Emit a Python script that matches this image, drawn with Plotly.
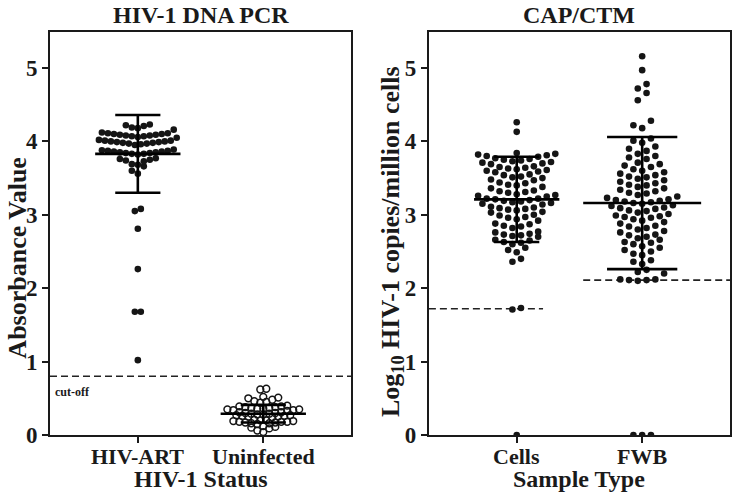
import math
import plotly.graph_objects as go

# ---------------- data ----------------
left_categories = ["HIV-ART", "Uninfected"]
right_categories = ["Cells", "FWB"]
category_positions = [1, 2]
y_ticks = [0, 1, 2, 3, 4, 5]

hiv_art = [1.02, 1.68, 1.68, 2.26, 2.81, 3.05, 3.08,
           3.56, 3.60, 3.66, 3.68, 3.69, 3.73, 3.74, 3.75, 3.76, 3.77,
           3.82, 3.83, 3.83, 3.84, 3.84, 3.85, 3.85, 3.86, 3.86, 3.87, 3.87, 3.88, 3.89,
           3.95, 3.96, 3.97, 3.97, 3.98, 3.98, 3.99, 3.99, 4.00, 4.00, 4.01, 4.01, 4.02,
           4.05, 4.06, 4.07, 4.07, 4.08, 4.08, 4.09, 4.09, 4.10, 4.10, 4.11, 4.11, 4.12,
           4.16, 4.18, 4.19, 4.21, 4.22, 4.23]

uninfected = [0.04, 0.06,
              0.09, 0.10, 0.11, 0.12,
              0.15, 0.16, 0.16, 0.17, 0.17, 0.18, 0.18, 0.18, 0.19, 0.19, 0.20, 0.20, 0.21,
              0.24, 0.25, 0.25, 0.26, 0.26, 0.27, 0.27, 0.28, 0.28, 0.29, 0.29, 0.30, 0.30,
              0.31, 0.31,
              0.33, 0.34, 0.34, 0.35, 0.35, 0.36, 0.36, 0.37, 0.37, 0.38, 0.38, 0.39, 0.39,
              0.40,
              0.44, 0.45, 0.46, 0.48, 0.50, 0.51, 0.52,
              0.62, 0.63]

cells = [0.0, 1.71, 1.73,
         2.36, 2.40,
         2.49, 2.52, 2.55,
         2.60, 2.62, 2.63, 2.65, 2.66,
         2.70, 2.71, 2.72, 2.73, 2.74, 2.76, 2.77,
         2.82, 2.84, 2.85, 2.87, 2.88,
         2.92, 2.94, 2.96, 2.97, 2.99, 3.00,
         3.03, 3.04, 3.06, 3.07, 3.08, 3.09, 3.10, 3.11,
         3.14, 3.15, 3.16, 3.17, 3.18, 3.19, 3.20, 3.21, 3.22, 3.22,
         3.25, 3.26, 3.27, 3.28, 3.30, 3.31, 3.32, 3.33,
         3.36, 3.38, 3.40, 3.41, 3.43, 3.44,
         3.47, 3.48, 3.50, 3.51, 3.52, 3.54, 3.55,
         3.58, 3.59, 3.60, 3.61, 3.62, 3.63, 3.64, 3.65, 3.66,
         3.69, 3.70, 3.71, 3.72, 3.73, 3.74, 3.75, 3.76, 3.77,
         3.79, 3.80, 3.81, 3.82, 3.83, 3.84,
         4.13, 4.26]

fwb = [0.0, 0.0, 0.0,
       2.10, 2.11, 2.11, 2.12, 2.12,
       2.20, 2.22, 2.25,
       2.33, 2.36, 2.38,
       2.45, 2.47, 2.50, 2.52,
       2.55, 2.57, 2.60, 2.62, 2.63,
       2.66, 2.68, 2.70, 2.72, 2.73,
       2.76, 2.78, 2.80, 2.82, 2.84, 2.85,
       2.88, 2.90, 2.92, 2.94, 2.96, 2.97, 2.98,
       2.99, 3.01, 3.03, 3.05, 3.06, 3.08, 3.09,
       3.10, 3.12, 3.13, 3.15, 3.16, 3.17, 3.18, 3.19, 3.20,
       3.21, 3.23, 3.25, 3.27, 3.29, 3.30,
       3.32, 3.34, 3.36, 3.38, 3.40, 3.41,
       3.43, 3.45, 3.47, 3.49, 3.51, 3.52,
       3.54, 3.56, 3.58, 3.60, 3.62,
       3.65, 3.67, 3.69, 3.71,
       3.76, 3.78, 3.80, 3.83,
       3.87, 3.90, 3.93,
       3.98, 4.01, 4.04,
       4.18, 4.22, 4.28,
       4.56, 4.66, 4.72, 4.78, 4.97, 5.16]

left_mean = [3.83, 0.29]
left_sd = [0.53, 0.12]
right_mean = [3.21, 3.16]
right_sd = [0.58, 0.90]

cutoff = 0.8
lod_cells = 1.72
lod_fwb = 2.11

# ---------------- geometry helpers ----------------
X_RANGE = [0.3, 2.7]
Y_RANGE = [0, 5.49]
PLOT_W = 302.0
PLOT_H = 403.0
XS = PLOT_W / (X_RANGE[1] - X_RANGE[0])
YS = PLOT_H / (Y_RANGE[1] - Y_RANGE[0])


def rows_layout(vals, xc, bin_px, step_px):
    """Prism-like scatter: walk the sorted values, start a new horizontal row when a
    value is more than one row height above the row's first value, then spread each
    row symmetrically around the category centre (lowest values nearest centre)."""
    order = sorted(range(len(vals)), key=lambda i: vals[i])
    rows = []
    for i in order:
        if rows and (vals[i] - vals[rows[-1][0]]) * YS <= bin_px:
            rows[-1].append(i)
        else:
            rows.append([i])
    out = [0.0] * len(vals)
    for idx in rows:
        n = len(idx)
        if n % 2 == 1:
            offs = [0.0]
            j = 1
            while len(offs) < n:
                offs += [-j * step_px, j * step_px]
                j += 1
        else:
            offs = []
            j = 0
            while len(offs) < n:
                offs += [-(j + 0.5) * step_px, (j + 0.5) * step_px]
                j += 1
        for i, o in zip(idx, offs[:n]):
            out[i] = xc + o / XS
    return out


FONT = "Liberation Serif"
INK = "#151515"

fig = go.Figure()


def add_points(vals, xc, xa, ya, bin_px, step_px, hollow=False):
    xs = rows_layout(vals, xc, bin_px, step_px)
    if hollow:
        marker = dict(symbol="circle-open", size=6.8, color=INK, line=dict(width=1.5, color=INK))
    else:
        marker = dict(symbol="circle", size=6.6, color=INK)
    fig.add_trace(go.Scatter(x=xs, y=vals, mode="markers", marker=marker,
                             xaxis=xa, yaxis=ya, showlegend=False, hoverinfo="y"))


def add_bars(xc, m, s, xa, ya, mh=0.34, ch=0.18):
    xs = [xc - mh, xc + mh, None, xc - ch, xc + ch, None, xc - ch, xc + ch, None, xc, xc]
    ys = [m, m, None, m + s, m + s, None, m - s, m - s, None, m - s, m + s]
    fig.add_trace(go.Scatter(x=xs, y=ys, mode="lines", line=dict(color="black", width=2.6),
                             xaxis=xa, yaxis=ya, showlegend=False, hoverinfo="skip"))


def add_dash(x0, x1, yv, xa, ya):
    fig.add_trace(go.Scatter(x=[x0, x1], y=[yv, yv], mode="lines",
                             line=dict(color="#222", width=1.6, dash="7px,4px"),
                             xaxis=xa, yaxis=ya, showlegend=False, hoverinfo="skip"))


add_dash(0.3, 2.7, cutoff, "x", "y")
add_dash(0.3, 1.21, lod_cells, "x2", "y2")
add_dash(1.53, 2.7, lod_fwb, "x2", "y2")

add_points(hiv_art, 1, "x", "y", bin_px=8.0, step_px=6.0)
add_points(uninfected, 2, "x", "y", bin_px=5.5, step_px=6.0, hollow=True)
add_points(cells, 1, "x2", "y2", bin_px=8.0, step_px=8.6)
add_points(fwb, 2, "x2", "y2", bin_px=8.0, step_px=8.8)

add_bars(1, left_mean[0], left_sd[0], "x", "y")
add_bars(2, left_mean[1], left_sd[1], "x", "y")
add_bars(1, right_mean[0], right_sd[0], "x2", "y2")
add_bars(2, right_mean[1], right_sd[1], "x2", "y2", mh=0.47, ch=0.28)

axis_common = dict(showline=True, mirror=True, linecolor="#1a1a1a", linewidth=2,
                   showgrid=False, zeroline=False, ticks="outside", ticklen=6,
                   tickwidth=2, tickcolor="#1a1a1a")


def bold(lst):
    return ["<b>%s</b>" % t for t in lst]


fig.update_layout(
    width=733, height=496,
    margin=dict(l=50, r=1, t=32, b=61),
    paper_bgcolor="white", plot_bgcolor="white",
    font=dict(family=FONT, color="#1a1a1a"),
    xaxis=dict(domain=[0, PLOT_W / 682], range=X_RANGE, tickvals=category_positions,
               showticklabels=False, anchor="y", **axis_common),
    yaxis=dict(domain=[0, 1], range=Y_RANGE, tickvals=y_ticks,
               ticktext=bold([str(t) for t in y_ticks]), anchor="x",
               tickfont=dict(family=FONT, size=23), **axis_common),
    xaxis2=dict(domain=[380 / 682, 1], range=X_RANGE, tickvals=category_positions,
                showticklabels=False, anchor="y2", **axis_common),
    yaxis2=dict(domain=[0, 1], range=Y_RANGE, tickvals=y_ticks,
                ticktext=bold([str(t) for t in y_ticks]), anchor="x2",
                tickfont=dict(family=FONT, size=23), **axis_common),
)


def ann(text, x, y, size, angle=0, xanchor="center", yanchor="middle", xref="paper"):
    fig.add_annotation(text="<b>%s</b>" % text, x=x, y=y, xref=xref, yref="paper",
                       showarrow=False, textangle=angle, xanchor=xanchor, yanchor=yanchor,
                       font=dict(family=FONT, size=size, color="#1a1a1a"))


def px_x(p):
    return (p - 50) / 682.0


def px_y(p):
    return (435 - p) / 403.0


# category labels (drawn at the category positions of each x axis)
for pos, lab in zip(category_positions, left_categories):
    ann(lab, pos, px_y(456), 22, xref="x")
for pos, lab in zip(category_positions, right_categories):
    ann(lab, pos, px_y(456), 22, xref="x2")

ann("HIV-1 DNA PCR", px_x(201), px_y(0), 24, yanchor="top")
ann("CAP/CTM", px_x(581), px_y(0), 24, yanchor="top")
ann("HIV-1 Status", px_x(201), px_y(479), 24)
ann("Sample Type", px_x(581), px_y(479), 24)
ann("Absorbance Value", px_x(0), px_y(258), 26, angle=-90, xanchor="left")
ann("Log<sub>10</sub> HIV-1 copies/million cells", px_x(393), px_y(241), 26, angle=-90)
ann("cut-off", px_x(53), px_y(392), 12, xanchor="left")

fig.write_html("out.html", config={"displayModeBar": False},
               post_script="document.body.style.margin='0px';document.body.style.overflow='hidden';")
